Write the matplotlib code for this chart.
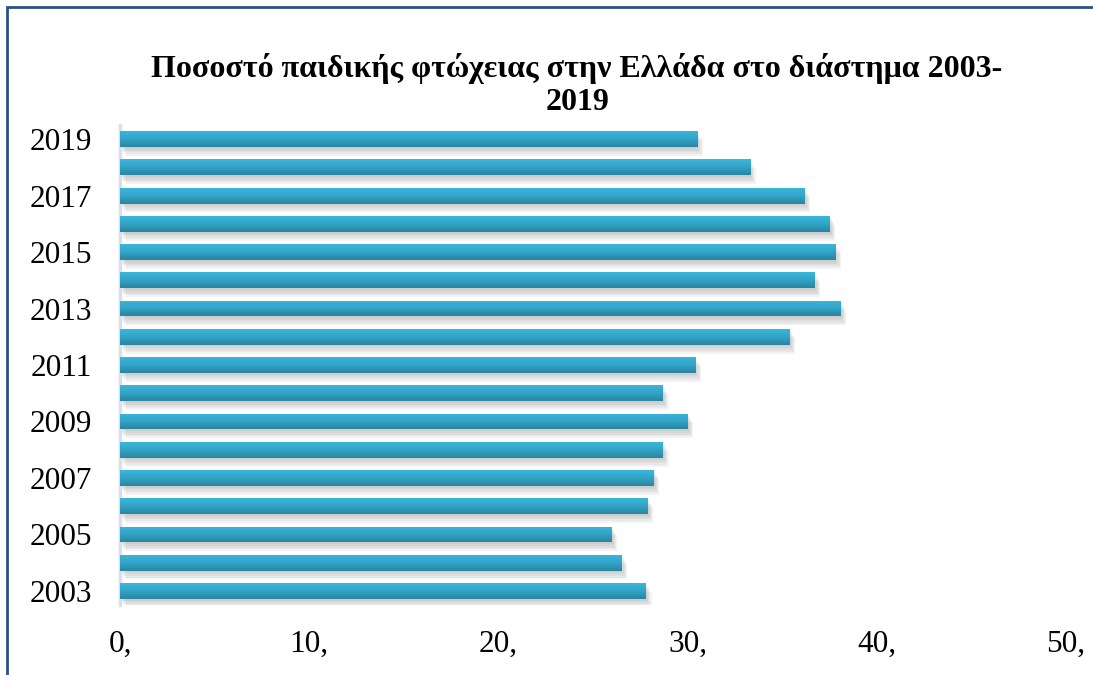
import numpy as np
import matplotlib
matplotlib.use("Agg")
import matplotlib.pyplot as plt
import matplotlib.patheffects as pe
from matplotlib.colors import LinearSegmentedColormap
from matplotlib.patches import Rectangle

plt.rcParams['font.family'] = ['Liberation Serif', 'DejaVu Serif']

# data (child poverty rate, %)
years = [2003, 2004, 2005, 2006, 2007, 2008, 2009, 2010, 2011,
         2012, 2013, 2014, 2015, 2016, 2017, 2018, 2019]
rates = [27.8, 26.5, 26.0, 27.9, 28.2, 28.7, 30.0, 28.7, 30.4,
         35.4, 38.1, 36.7, 37.8, 37.5, 36.2, 33.3, 30.5]
title_line1 = 'Ποσοστό παιδικής φτώχειας στην Ελλάδα στο διάστημα 2003-'
title_line2 = '2019'
xticks = [0, 10, 20, 30, 40, 50]

fig = plt.figure(figsize=(10.93, 6.75), dpi=100)
ax = fig.add_axes([0.1098, 0.1037, 0.8655, 0.7111])

pos = np.arange(len(years))
shadow = [pe.SimplePatchShadow(offset=(o, -1.6 * o), shadow_rgbFace='#808080', alpha=0.09)
          for o in (0.8, 1.6, 2.4, 3.2, 4.0)]
bars = ax.barh(pos, rates, height=0.56, color='#32A6C8', edgecolor='none', zorder=2,
               path_effects=shadow + [pe.Normal()])

# vertical gradient inside each bar
cmap = LinearSegmentedColormap.from_list('g', ['#2A85A0', '#32A3C6', '#3AB6DA'])
grad = np.linspace(0, 1, 64).reshape(-1, 1)
for b in bars:
    x0, y0 = b.get_x(), b.get_y()
    im = ax.imshow(grad, extent=[x0, x0 + b.get_width(), y0, y0 + b.get_height()],
                   origin='lower', aspect='auto', cmap=cmap, zorder=3,
                   interpolation='bilinear')
    im.set_clip_path(b)

ax.set_xlim(0, 50)
ax.set_ylim(-0.5, len(years) - 0.5)
ax.set_xticks(xticks)
ax.set_xticklabels([f'{v},' for v in xticks], fontsize=22.5)
ax.set_yticks(pos[::2])
ax.set_yticklabels([str(y) for y in years[::2]], fontsize=22.5)
ax.tick_params(axis='both', length=0)
ax.tick_params(axis='y', pad=20)
ax.tick_params(axis='x', pad=18)
for s in ['top', 'right', 'bottom']:
    ax.spines[s].set_visible(False)
ax.spines['left'].set_color('#D5E0F0')
ax.spines['left'].set_linewidth(2.5)

fig.text(0.528, 0.886, title_line1, ha='center', va='baseline',
         fontsize=23, fontweight='bold')
fig.text(0.528, 0.837, title_line2, ha='center', va='baseline',
         fontsize=23, fontweight='bold')

# outer frame (runs off the right and bottom edges)
fig.patches.append(Rectangle((7 / 1093, -0.1), 1.2, 1.1 - 7 / 675, transform=fig.transFigure,
                             fill=False, edgecolor='#2B5087', linewidth=2))

fig.savefig('out.png', dpi=100)
